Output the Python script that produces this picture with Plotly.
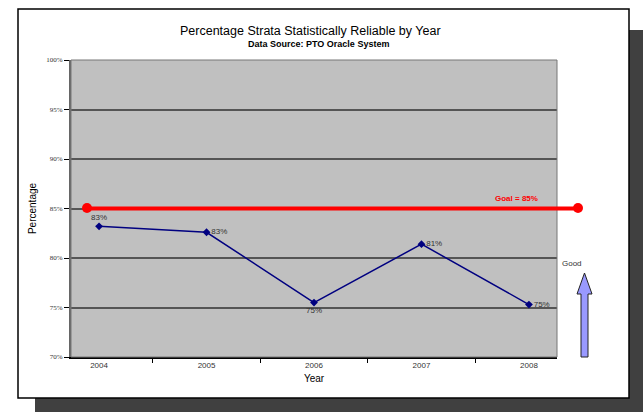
import plotly.graph_objects as go

years = ["2004", "2005", "2006", "2007", "2008"]
pct = [83.2, 82.6, 75.5, 81.4, 75.3]
labels = ["83%", "83%", "75%", "81%", "75%"]
label_pos = ["top center", "middle right", "bottom center", "middle right", "middle right"]
goal = 85
y_ticks = [70, 75, 80, 85, 90, 95, 100]
y_ticktext = [f"{v}%" for v in y_ticks]

W, H = 643, 412
L, R, T, B = 71, 86, 60, 55
pw, ph = W - L - R, H - T - B

def px(x):
    return (x - L) / pw

def py(y):
    return (H - B - y) / ph

fig = go.Figure()
fig.add_trace(go.Scatter(
    x=years, y=pct, mode="lines+markers+text",
    line=dict(color="#000080", width=1.5),
    marker=dict(symbol="diamond", size=6, color="#000080"),
    text=labels, textposition=label_pos,
    textfont=dict(family="Liberation Sans", size=8, color="#333333"),
    cliponaxis=False, showlegend=False, hoverinfo="skip"))

shapes = [
    dict(type="rect", xref="paper", yref="paper", x0=px(35), x1=px(643), y0=py(412), y1=py(30),
         fillcolor="#404040", line=dict(width=0), layer="below"),
    dict(type="rect", xref="paper", yref="paper", x0=px(18), x1=px(629), y0=py(398), y1=py(9),
         fillcolor="white", line=dict(color="black", width=1.5), layer="below"),
    dict(type="rect", xref="paper", yref="paper", x0=0, x1=1, y0=0, y1=1,
         fillcolor="#c0c0c0", line=dict(width=0), layer="below"),
    dict(type="rect", xref="paper", yref="paper", x0=0, x1=1, y0=0, y1=1,
         line=dict(color="#777777", width=1), layer="above"),
    dict(type="line", xref="paper", yref="y", x0=px(87), x1=px(578), y0=goal, y1=goal,
         line=dict(color="#ff0000", width=4), layer="above"),
    dict(type="circle", xref="paper", yref="paper", x0=px(82), x1=px(92), y0=py(213), y1=py(203),
         fillcolor="#ff0000", line=dict(width=0), layer="above"),
    dict(type="circle", xref="paper", yref="paper", x0=px(573), x1=px(583), y0=py(213), y1=py(203),
         fillcolor="#ff0000", line=dict(width=0), layer="above"),
    dict(type="path", xref="paper", yref="paper",
         path=(f"M {px(581)},{py(357)} L {px(581)},{py(294)} L {px(577)},{py(294)} "
               f"L {px(584.5)},{py(273)} L {px(592)},{py(294)} L {px(588)},{py(294)} "
               f"L {px(588)},{py(357)} Z"),
         fillcolor="#9999ff", line=dict(color="#222222", width=1)),
]

annotations = [
    dict(text="Percentage Strata Statistically Reliable by Year", xref="paper", yref="paper",
         x=px(310), y=py(31), showarrow=False, yanchor="middle",
         font=dict(family="Liberation Sans", size=12.5, color="black")),
    dict(text="<b>Data Source: PTO Oracle System</b>", xref="paper", yref="paper",
         x=px(318), y=py(44), showarrow=False, yanchor="middle",
         font=dict(family="Liberation Sans", size=9, color="black")),
    dict(text="<b>Goal = 85%</b>", xref="paper", yref="paper", x=px(540), y=py(198),
         xanchor="right", yanchor="middle", showarrow=False,
         font=dict(family="Liberation Sans", size=8, color="#ff0000")),
    dict(text="Good", xref="paper", yref="paper", x=px(584), y=py(263), showarrow=False,
         yanchor="middle",
         font=dict(family="Liberation Sans", size=8, color="#333333")),
]

fig.update_layout(
    width=W, height=H,
    margin=dict(l=L, r=R, t=T, b=B),
    paper_bgcolor="white", plot_bgcolor="#c0c0c0",
    shapes=shapes, annotations=annotations,
    xaxis=dict(type="category", tickson="boundaries", ticks="outside", ticklen=4,
               tickcolor="black", showline=True, linecolor="black", linewidth=1.5,
               showgrid=False, zeroline=False,
               tickfont=dict(family="Liberation Sans", size=8, color="#333333"),
               title=dict(text="Year", font=dict(family="Liberation Sans", size=10, color="black"),
                          standoff=6)),
    yaxis=dict(range=[70, 100], tickvals=y_ticks, ticktext=y_ticktext, ticks="outside",
               ticklen=5, tickcolor="black", showline=True, linecolor="#666666", linewidth=2,
               showgrid=True, gridcolor="#555555", gridwidth=1.5, zeroline=False,
               tickfont=dict(family="Liberation Serif", size=7, color="#333333"),
               title=dict(text="Percentage", font=dict(family="Liberation Sans", size=10, color="black"),
                          standoff=8)),
)

fig.write_html("out.html")
